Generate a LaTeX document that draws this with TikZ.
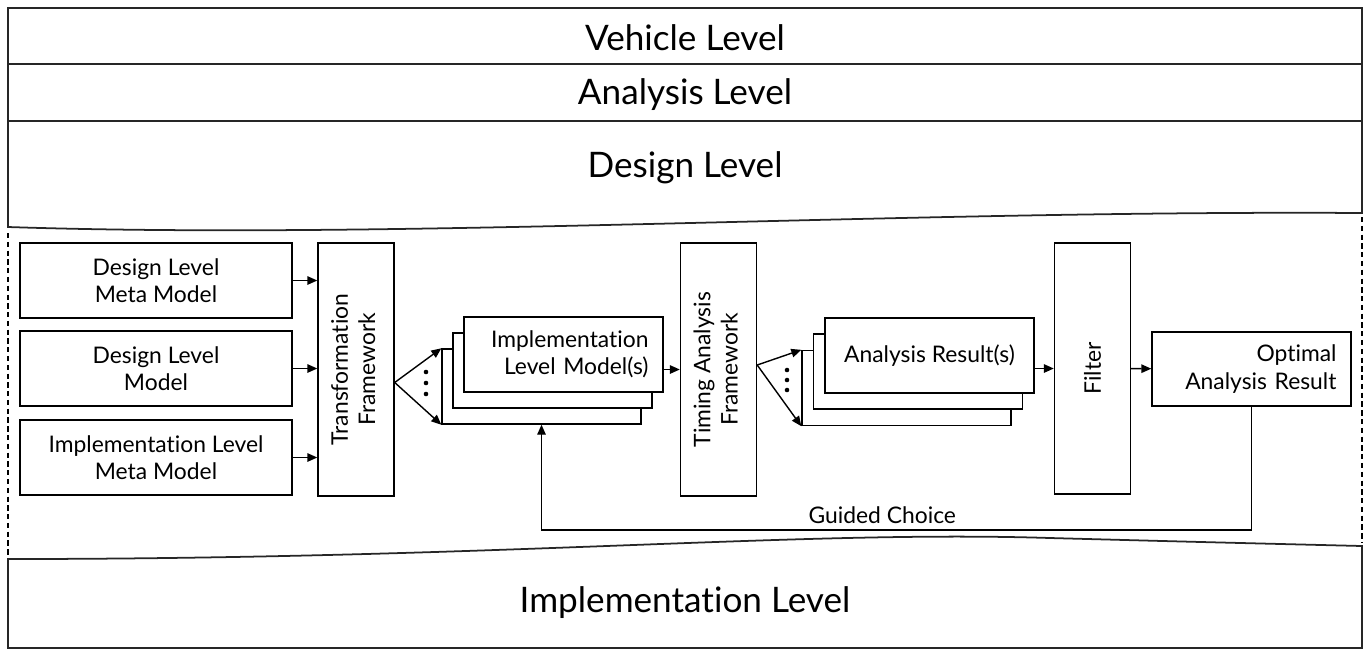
\documentclass[tikz,border=0pt]{standalone}
\usepackage{fontspec}
\setmainfont{Lato}[Ligatures=NoCommon]
\usepackage{graphicx}
\usepackage{tikz}
\usetikzlibrary{arrows.meta}

\begin{document}
\begin{tikzpicture}[
  x=0.02cm, y=-0.02cm,
  line width=0.8pt,
  every node/.style={font=\fontsize{13}{15.6}\selectfont},
  box/.style={draw, fill=white, align=center, inner sep=0pt},
  inbox/.style={box, minimum width=5.44cm, minimum height=1.5cm},
  tall/.style={box, minimum width=1.52cm, minimum height=5.06cm},
  stack/.style={box, minimum width=3.98cm, minimum height=1.5cm},
  level/.style={font=\fontsize{20}{24}\selectfont},
  lvl/.style={line width=1pt, draw=black!85},
  arr/.style={-{Triangle[length=2mm, width=1.7mm]}}
]
\useasboundingbox (0,0) rectangle (1364,650);

% levels
\draw[lvl] (8,8) rectangle (1362,64);
\draw[lvl] (8,64) rectangle (1362,121);
\draw[lvl] (8,121) -- (8,227) .. controls (400,240) and (900,210) .. (1362,213) -- (1362,121);
\draw[lvl] (8,648) -- (8,559) .. controls (500,559) and (800,530) .. (1050,538)
  .. controls (1200,542) .. (1362,546) -- (1362,648) -- cycle;
\draw[dash pattern=on 3pt off 2pt, line width=1pt] (8,233) -- (8,556);
\draw[dash pattern=on 3pt off 2pt, line width=1pt] (1362,217) -- (1362,543);

\node[level] (VL) at (685,38) {Vehicle Level};
\node[level] (AL) at (685,95) {Analysis Level};
\node[level] (DL) at (685,168) {Design Level};
\node[level] (IL) at (685,603) {Implementation Level};

% inputs
\node[inbox] (DLMM) at (156,280.5) {Design Level\\Meta Model};
\node[inbox] (DLM) at (156,368.5) {Design Level\\Model};
\node[inbox] (ILMM) at (156,457.5) {Implementation Level\\Meta Model};

\node[tall] (TF) at (356,369.5) {\rotatebox{90}{\begin{tabular}{@{}c@{}}Transformation\\Framework\end{tabular}}};
\node[tall] (TAF) at (718.5,369.5) {\rotatebox{90}{\begin{tabular}{@{}c@{}}Timing Analysis\\Framework\end{tabular}}};
\node[tall, minimum height=5.02cm] (F) at (1092.5,368.5) {\rotatebox{90}{Filter}};

% stacked models
\node[stack] (ILM3) at (541.5,386.5) {};
\node[stack] (ILM2) at (552.5,370.5) {};
\node[stack, text width=3.4cm, inner xsep=0.29cm, align=right] (ILM) at (563.5,354.5)
  {Implementation\\Level Model(s)};

\node[stack, minimum width=4.18cm] (AR3) at (906.5,388) {};
\node[stack, minimum width=4.18cm] (AR2) at (918,371.5) {};
\node[stack, minimum width=4.18cm] (AR) at (929.5,355.5) {Analysis Result(s)};

\node[stack, minimum height=1.48cm, text width=3.4cm, inner xsep=0.29cm, align=right] (OAR)
  at (1251.5,369) {Optimal\\Analysis Result};

% connectors
\draw[arr] (DLMM) -- (DLMM -| TF.west);
\draw[arr] (DLM) -- (DLM -| TF.west);
\draw[arr] (ILMM) -- (ILMM -| TF.west);

\draw[arr] ([yshift=-0.26cm]TF.east) -- (ILM3.north west);
\draw[arr] ([yshift=-0.26cm]TF.east) -- (ILM3.south west);
\foreach \y in {372,383,394} \fill (426,\y) circle (1.3pt);

\draw[arr] (ILM.east |- TAF) -- (TAF);

\draw[arr] ([yshift=0.09cm]TAF.east) -- (AR3.north west);
\draw[arr] ([yshift=0.09cm]TAF.east) -- (AR3.south west);
\foreach \y in {370,380,390} \fill (787,\y) circle (1.3pt);

\draw[arr] (AR.east |- F) -- (F);
\draw[arr] (F) -- (OAR);

\coordinate (gcR) at (OAR.south |- 0,530);
\coordinate (gcL) at (ILM3.south |- 0,530);
\draw[arr] (OAR.south) -- (gcR) -- node[pos=0.52, above] {Guided Choice} (gcL) -- (ILM3.south);
\end{tikzpicture}
\end{document}
